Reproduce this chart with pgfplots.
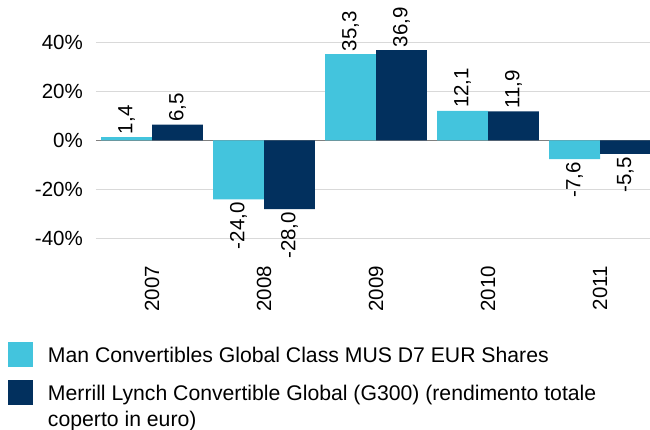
\documentclass[border=0pt]{standalone}
\usepackage{fontspec}
\setmainfont{Liberation Sans}
\usepackage{pgfplots}
\pgfplotsset{compat=1.18}

\definecolor{mancyan}{HTML}{43C4DD}
\definecolor{mlnavy}{HTML}{02305E}
\definecolor{gridgray}{HTML}{D9D9D9}
\definecolor{zerogray}{HTML}{808080}

\pgfplotsset{
  sqlegend/.style={legend image code/.code={\fill[##1] (0pt,-4.5pt) rectangle (25pt,20.5pt);}},
}

\begin{document}
\fontsize{20.5}{26.3}\selectfont
\begin{tikzpicture}
\path[use as bounding box] (-96pt,-167pt) rectangle (554pt,263pt);
\begin{axis}[
    at={(0pt,0pt)}, anchor=south west,
    scale only axis,
    width=560pt, height=245pt,
    xmin=-0.5, xmax=4.5, ymin=-50, ymax=50,
    clip=false,
    axis line style={draw=none},
    major tick length=0pt,
    ybar=0pt, bar width=0.455,
    xtick={0,1,2,3,4},
    xticklabels={2007,2008,2009,2010,2011},
    xticklabel style={rotate=90, anchor=east, inner sep=0pt, outer sep=3pt},
    ytick={-40,-20,0,20,40},
    yticklabel={\pgfmathprintnumber{\tick}\%},
    yticklabel style={anchor=east, inner sep=0pt, xshift=-13pt},
    ymajorgrids,
    major grid style={gridgray, line width=1.3pt},
    extra y ticks={0},
    extra y tick labels={},
    extra y tick style={grid=major, major grid style={zerogray, line width=1.3pt}},
    /pgf/number format/assume math mode=true,
    nodes near coords={\pgfmathprintnumber[fixed,fixed zerofill,precision=1,use comma]{\pgfplotspointmeta}},
    visualization depends on=rawy\as\rawy,
    nodes near coords style={rotate=90, inner sep=0pt, outer sep=3pt,
        anchor={\ifdim\rawy pt<0pt east\else west\fi}},
    legend style={at={(0,0)}, anchor=north west, xshift=-88pt, yshift=-79pt,
        draw=none, fill=none, inner sep=0pt, outer sep=0pt,
        font=\fontsize{21.2}{26.3}\selectfont,
        row sep=12pt, column sep=13pt, cells={anchor=base west}},
]

% Man Convertibles Global Class MUS D7 EUR Shares
\addplot[fill=mancyan, draw=none, sqlegend] coordinates {
    (0,1.4) (1,-24.0) (2,35.3) (3,12.1) (4,-7.6)};
\addlegendentry{Man Convertibles Global Class MUS D7 EUR Shares}

% Merrill Lynch Convertible Global (G300)
\addplot[fill=mlnavy, draw=none, sqlegend] coordinates {
    (0,6.5) (1,-28.0) (2,36.9) (3,11.9) (4,-5.5)};
\addlegendentry{\vtop{\hbox{Merrill Lynch Convertible Global (G300) (rendimento totale}\hbox{coperto in euro)}}}

\end{axis}
\end{tikzpicture}
\end{document}
